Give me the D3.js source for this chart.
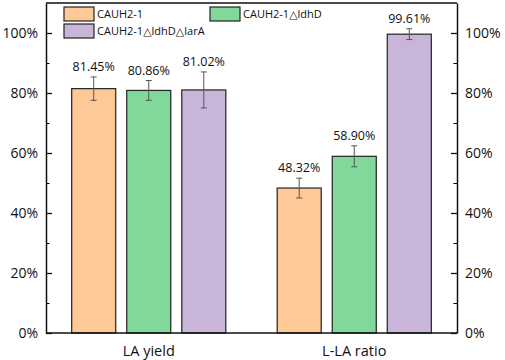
<!DOCTYPE html>
<html>
<head>
<meta charset="utf-8">
<script src="https://cdn.jsdelivr.net/npm/d3@7"></script>
<style>
  body { margin: 0; background: #fff; }
  text { font-family: "Open Sans", "DejaVu Sans", sans-serif; fill: #111; }
</style>
</head>
<body>
<div id="chart"></div>
<script>
var categories = ["LA yield", "L-LA ratio"];
var strains = ["CAUH2-1", "CAUH2-1\u25B3ldhD", "CAUH2-1\u25B3ldhD\u25B3larA"];
var colors = ["#fec897", "#80d99b", "#c9b4da"];
var wildValues = [81.45, 48.32];
var ldhDValues = [80.86, 58.90];
var larAValues = [81.02, 99.61];
var wildErrors = [3.9, 3.3];
var ldhDErrors = [3.3, 3.5];
var larAErrors = [6.0, 1.8];
var yTicks = [0, 20, 40, 60, 80, 100];
var yMinor = [10, 30, 50, 70, 90];

var seriesValues = [wildValues, ldhDValues, larAValues];
var seriesErrors = [wildErrors, ldhDErrors, larAErrors];

var margin = {left: 46, right: 48, top: 3, bottom: 27};
var width = 505 - margin.left - margin.right;
var height = 360 - margin.top - margin.bottom;

var svg = d3.select("#chart").append("svg")
    .attr("width", 505).attr("height", 360);
var g = svg.append("g")
    .attr("transform", "translate(" + margin.left + "," + margin.top + ")");

var x0 = d3.scaleBand().domain(categories).range([0, width])
    .paddingInner(0.25).paddingOuter(0.125);
var x1 = d3.scaleBand().domain(strains).range([0, x0.bandwidth()])
    .paddingInner(0.2).paddingOuter(0);
var y = d3.scaleLinear().domain([0, 110]).range([height, 0]);

// build rows
var rows = [];
categories.forEach(function(c, ci) {
  strains.forEach(function(s, si) {
    rows.push({cat: c, strain: s, si: si,
      v: seriesValues[si][ci], e: seriesErrors[si][ci]});
  });
});

// bars
g.selectAll("rect.bar").data(rows).enter().append("rect")
  .attr("class", "bar")
  .attr("x", function(d) { return x0(d.cat) + x1(d.strain); })
  .attr("y", function(d) { return y(d.v); })
  .attr("width", x1.bandwidth())
  .attr("height", function(d) { return height - y(d.v); })
  .attr("fill", function(d) { return colors[d.si]; })
  .attr("stroke", "#222").attr("stroke-width", 1.2);

// error bars
var eg = g.selectAll("g.err").data(rows).enter().append("g").attr("class", "err")
  .attr("stroke", "#555").attr("stroke-width", 1);
eg.append("line")
  .attr("x1", function(d) { return x0(d.cat) + x1(d.strain) + x1.bandwidth() / 2; })
  .attr("x2", function(d) { return x0(d.cat) + x1(d.strain) + x1.bandwidth() / 2; })
  .attr("y1", function(d) { return y(d.v + d.e); })
  .attr("y2", function(d) { return y(d.v - d.e); });
[1, -1].forEach(function(sgn) {
  eg.append("line")
    .attr("x1", function(d) { return x0(d.cat) + x1(d.strain) + x1.bandwidth() / 2 - 3; })
    .attr("x2", function(d) { return x0(d.cat) + x1(d.strain) + x1.bandwidth() / 2 + 3; })
    .attr("y1", function(d) { return y(d.v + sgn * d.e); })
    .attr("y2", function(d) { return y(d.v + sgn * d.e); });
});

// value labels
g.selectAll("text.val").data(rows).enter().append("text")
  .attr("class", "val")
  .attr("x", function(d) { return x0(d.cat) + x1(d.strain) + x1.bandwidth() / 2; })
  .attr("y", function(d) { return y(d.v + d.e) - 6; })
  .attr("text-anchor", "middle")
  .style("font-size", "12.5px")
  .text(function(d) { return d.v.toFixed(2) + "%"; });

// axes
var fmt = function(d) { return d + "%"; };
var left = g.append("g").call(d3.axisLeft(y).tickValues(yTicks).tickFormat(fmt)
    .tickSizeInner(-6).tickSizeOuter(0).tickPadding(8));
var right = g.append("g").attr("transform", "translate(" + width + ",0)")
  .call(d3.axisRight(y).tickValues(yTicks).tickFormat(fmt)
    .tickSizeInner(-6).tickSizeOuter(0).tickPadding(8));
g.append("g").call(d3.axisLeft(y).tickValues(yMinor).tickFormat("").tickSizeInner(-3.5).tickSizeOuter(0))
  .select(".domain").remove();
g.append("g").attr("transform", "translate(" + width + ",0)")
  .call(d3.axisRight(y).tickValues(yMinor).tickFormat("").tickSizeInner(-3.5).tickSizeOuter(0))
  .select(".domain").remove();
[left, right].forEach(function(a) {
  a.selectAll("text").style("font-size", "14px").attr("fill", "#111")
    .style("font-family", "'Open Sans', sans-serif");
  a.selectAll("line").attr("stroke", "#111").attr("stroke-width", 1.3);
});
g.selectAll(".domain").attr("stroke", "#111").attr("stroke-width", 1.5);

// box top and bottom
g.append("line").attr("x1", 0).attr("x2", width).attr("y1", 0).attr("y2", 0)
  .attr("stroke", "#111").attr("stroke-width", 1.5);
g.append("line").attr("x1", 0).attr("x2", width).attr("y1", height).attr("y2", height)
  .attr("stroke", "#111").attr("stroke-width", 1.5);

// category labels
g.selectAll("text.cat").data(categories).enter().append("text")
  .attr("class", "cat")
  .attr("x", function(d) { return x0(d) + x0.bandwidth() / 2; })
  .attr("y", height + 23)
  .attr("text-anchor", "middle")
  .style("font-size", "14.5px")
  .text(function(d) { return d; });

// legend
var legendPos = [[18, 4], [164, 4], [18, 21]];
var lg = g.selectAll("g.legend").data(strains).enter().append("g")
  .attr("class", "legend")
  .attr("transform", function(d, i) { return "translate(" + legendPos[i][0] + "," + legendPos[i][1] + ")"; });
lg.append("rect").attr("width", 30).attr("height", 14)
  .attr("fill", function(d, i) { return colors[i]; })
  .attr("stroke", "#222").attr("stroke-width", 1.2);
lg.append("text").attr("x", 33).attr("y", 11)
  .style("font-size", "11px")
  .text(function(d) { return d; });
</script>
</body>
</html>
